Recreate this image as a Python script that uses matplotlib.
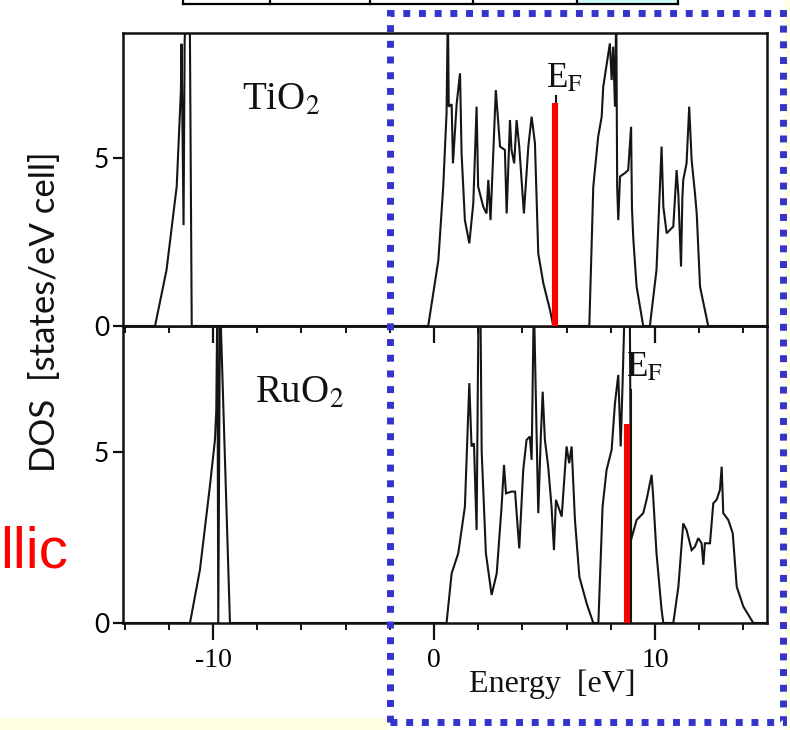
import matplotlib
matplotlib.use('Agg')
import matplotlib.pyplot as plt
from matplotlib.patches import Rectangle
from matplotlib.lines import Line2D
from matplotlib.ticker import FixedLocator

plt.rcParams['font.family'] = ['Liberation Serif', 'DejaVu Serif']
plt.rcParams['mathtext.fontset'] = 'stix'

# TiO2 density of states (energy in eV, states/eV cell); values above 8.7 run off the frame
tio2_energy = [-14.0, -12.62, -12.1, -11.64, -11.45, -11.42, -11.33, -11.28, -11.22, -11.05, -10.96,
               -0.26, 0.20, 0.42, 0.57, 0.63, 0.67, 0.80, 0.86, 1.03, 1.18, 1.25, 1.40, 1.60, 1.78,
               1.93, 2.00, 2.23, 2.38, 2.46, 2.56, 2.80, 2.99, 3.21, 3.29, 3.44, 3.51, 3.63, 3.74,
               3.86, 4.07, 4.27, 4.42, 4.57, 4.72, 4.95, 5.25, 5.40,
               7.03, 7.21, 7.43, 7.59, 7.66, 7.96, 8.04, 8.11, 8.19, 8.25, 8.29, 8.34, 8.42, 8.64,
               8.79, 8.92, 8.96, 9.02, 9.17, 9.47,
               9.77, 10.07, 10.30, 10.38, 10.53, 10.83, 10.98, 11.06, 11.18, 11.24, 11.28, 11.43,
               11.55, 11.66, 11.81, 11.89, 12.04, 12.41, 15.0]
tio2_dos = [0, 0, 1.67, 4.15, 7.0, 8.4, 3.0, 8.5, 9.5, 9.5, 0,
            0, 1.96, 4.15, 6.33, 9.5, 6.53, 6.6, 4.84, 6.63, 7.52, 5.14, 3.15, 2.46, 3.65,
            6.53, 4.15, 3.55, 3.35, 4.35, 3.15, 7.02, 5.34, 5.24, 3.35, 6.13, 5.24, 4.84, 6.13,
            5.34, 3.35, 5.34, 6.23, 5.44, 2.16, 1.27, 0.48, 0,
            0, 4.15, 5.63, 6.23, 7.12, 8.41, 7.32, 8.31, 6.53, 9.5, 4.15, 3.15, 4.45, 4.55,
            4.64, 5.93, 3.5, 2.6, 1.17, 0,
            0, 1.67, 5.34, 3.55, 2.76, 2.96, 4.64, 3.9, 1.77, 3.8, 4.35, 4.84,
            6.53, 4.94, 3.95, 3.35, 1.17, 0, 0]

# RuO2 density of states
ruo2_energy = [-14.0, -11.04, -10.59, -10.14, -9.91, -9.85, -9.80, -9.76, -9.68, -9.23,
               0.57, 0.80, 1.10, 1.40, 1.60, 1.70, 1.81, 1.93, 2.02, 2.10, 2.16, 2.35, 2.61, 2.84,
               3.06, 3.17, 3.26, 3.51, 3.67, 3.86, 4.04, 4.19, 4.34, 4.42, 4.52, 4.65, 4.72, 4.83,
               4.92, 5.02, 5.17, 5.32, 5.43, 5.52, 5.78, 6.00, 6.12, 6.23, 6.38, 6.58, 6.91, 7.21,
               7.44, 7.63, 7.81, 8.04, 8.19, 8.34, 8.45, 8.54, 8.64, 8.86, 8.92, 9.17, 9.47, 9.62,
               9.85, 9.92, 10.07, 10.30, 10.38,
               10.83, 11.06, 11.28, 11.43, 11.66, 11.81, 11.96, 12.11, 12.19, 12.26, 12.49, 12.64,
               12.79, 12.94, 13.02, 13.09, 13.32, 13.52, 13.70, 14.00, 14.45, 15.0]
ruo2_dos = [0, 0, 1.55, 3.99, 5.35, 6.2, 9.5, 0, 9.5, 0,
            0, 1.45, 2.04, 3.40, 7.01, 5.16, 5.25, 2.72, 9.5, 9.5, 5.0, 2.04, 0.82, 1.45,
            3.40, 4.62, 3.79, 3.84, 3.84, 2.18, 4.47, 5.35, 5.45, 4.77, 9.5, 5.35, 3.21, 5.35,
            6.76, 5.35, 4.57, 3.40, 2.13, 3.60, 3.11, 5.16, 4.67, 5.16, 3.01, 1.35, 0.57, 0,
            0, 3.40, 4.47, 5.06, 6.42, 7.25, 5.16, 7.11, 9.5, 9.5, 2.43, 3.01, 3.21, 3.60,
            4.33, 3.69, 2.04, 0.38, 0,
            0, 1.06, 2.91, 2.72, 2.13, 2.23, 2.48, 2.33, 1.70, 2.33, 2.33, 3.50,
            3.60, 3.89, 4.57, 3.21, 3.01, 2.62, 1.06, 0.48, 0, 0]

# Fermi level markers: (energy, height) for the original black mark and the red highlight
ef_black = [(5.52, 6.85), (8.90, 6.8)]
ef_red = [(5.47, 6.64), (8.75, 5.82)]
labels = ['TiO$_2$', 'RuO$_2$']
label_pos = [(-6.9, 6.7), (-6.1, 6.7)]
ef_text_pos = [(5.05, 7.12), (8.70, 7.2)]

xlim = (-14.07, 15.07)
ylims = [(0, 8.72), (0, 8.68)]
x_major = [-10, 0, 10]
x_minor = [-14, -12, -8, -6, -4, -2, 2, 4, 6, 8, 12, 14]
x_labels = ['-10', '0', '10']

fig = plt.figure(figsize=(7.9, 7.3), dpi=100)
W, H = 790.0, 730.0


def fx(px):
    return px / W


def fy(py):
    return 1 - py / H


# slide background bits: pale yellow strips and the bit of the table above
fig.patches.append(Rectangle((0, 0), fx(388), 12 / H, transform=fig.transFigure,
                             facecolor='#fefee3', edgecolor='none', zorder=0))
fig.patches.append(Rectangle((fx(785), 0), 5 / W, 1, transform=fig.transFigure,
                             facecolor='#fefee3', edgecolor='none', zorder=0))
fig.patches.append(Rectangle((fx(577), fy(4)), fx(678) - fx(577), 4 / H, transform=fig.transFigure,
                             facecolor='#ccfafa', edgecolor='none', zorder=1))
fig.lines.append(Line2D([fx(183), fx(678)], [fy(3.5), fy(3.5)], transform=fig.transFigure,
                        color='black', lw=1.6))
for xc in [183, 270, 370, 473, 577, 678]:
    fig.lines.append(Line2D([fx(xc), fx(xc)], [fy(4), 1], transform=fig.transFigure,
                            color='black', lw=1.6))

ax1 = fig.add_axes([fx(123), fy(326), (767 - 123) / W, (326 - 33) / H])
ax2 = fig.add_axes([fx(123), fy(623), (767 - 123) / W, (623 - 326) / H])
ax2.set_facecolor('none')
ax1.set_zorder(3)
ax2.set_zorder(2)

curves = [(tio2_energy, tio2_dos), (ruo2_energy, ruo2_dos)]
for i, ax in enumerate([ax1, ax2]):
    en, dos = curves[i]
    ax.plot(en, dos, color='#151515', lw=1.5, solid_joinstyle='miter')
    e, h = ef_black[i]
    ax.plot([e, e], [0, h], color='#151515', lw=1.5)
    e, h = ef_red[i]
    ax.plot([e, e], [0, h], color='#ff0000', lw=4.4, solid_capstyle='butt', zorder=4)
    ax.text(label_pos[i][0], label_pos[i][1], labels[i], fontsize=28,
            ha='center', va='center', color='#111111')
    ax.text(ef_text_pos[i][0], ef_text_pos[i][1], r'E$_\mathrm{F}$', fontsize=25,
            ha='left', va='baseline', color='#111111')
    ax.set_xlim(*xlim)
    ax.set_ylim(*ylims[i])
    for sp in ax.spines.values():
        sp.set_linewidth(1.8)
        sp.set_color('#111111')
    ax.xaxis.set_major_locator(FixedLocator(x_major))
    ax.xaxis.set_minor_locator(FixedLocator(x_minor))
    ax.set_yticks([0, 5])
    ax.tick_params(axis='x', which='major', direction='out', length=12, width=1.6,
                   labelsize=20, pad=6, color='#111111')
    ax.tick_params(axis='x', which='minor', direction='out', length=5, width=1.4, color='#111111')
    ax.tick_params(axis='y', which='major', direction='out', length=7, width=1.6,
                   labelsize=19, pad=3, color='#111111')
    for lab in ax.get_yticklabels():
        lab.set_family(['Lato', 'DejaVu Sans'])

ax1.tick_params(axis='x', labelbottom=False)
ax2.set_xticklabels(x_labels)

fig.text(fx(552), fy(684), 'Energy  [eV]', fontsize=23, ha='center', va='center', color='#111111')

fig.text(fx(45), fy(312), 'DOS  [states/eV cell]', rotation=90, fontsize=25,
         ha='center', va='center', family=['Lato', 'DejaVu Sans'], color='#111111')

fig.text(0, fy(568), 'llic', fontsize=42, color='#ff0000', ha='left', va='baseline',
         family=['Liberation Sans', 'DejaVu Sans'])

# blue dotted highlight box
box = Rectangle((fx(390), fy(722)), (783 - 390) / W, (722 - 13) / H, transform=fig.transFigure,
                fill=False, edgecolor='#3434cc', lw=5.0, linestyle=(0, (1, 1.26)), zorder=10)
box.set_capstyle('butt')
fig.patches.append(box)

fig.savefig('out.png', dpi=100)
